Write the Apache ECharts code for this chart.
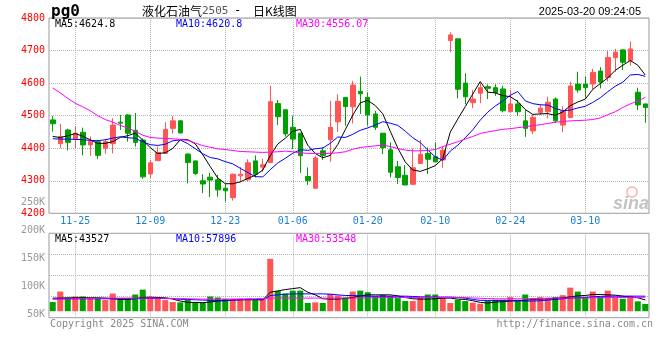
<!DOCTYPE html>
<html><head><meta charset="utf-8">
<script src="https://cdn.jsdelivr.net/npm/echarts@6/dist/echarts.min.js"></script>
<style>html,body{margin:0;padding:0;background:#fff}#c{width:660px;height:360px}</style>
</head><body><div id="c"></div>
<script>
const dates = ['2024-11-20','2024-11-21','2024-11-22','2024-11-25','2024-11-26','2024-11-27','2024-11-28','2024-11-29','2024-12-02','2024-12-03','2024-12-04','2024-12-05','2024-12-06','2024-12-09','2024-12-10','2024-12-11','2024-12-12','2024-12-13','2024-12-16','2024-12-17','2024-12-18','2024-12-19','2024-12-20','2024-12-23','2024-12-24','2024-12-25','2024-12-26','2024-12-27','2024-12-30','2024-12-31','2025-01-02','2025-01-03','2025-01-06','2025-01-07','2025-01-08','2025-01-09','2025-01-10','2025-01-13','2025-01-14','2025-01-15','2025-01-16','2025-01-17','2025-01-20','2025-01-21','2025-01-22','2025-01-23','2025-01-24','2025-01-27','2025-02-05','2025-02-06','2025-02-07','2025-02-10','2025-02-11','2025-02-12','2025-02-13','2025-02-14','2025-02-17','2025-02-18','2025-02-19','2025-02-20','2025-02-21','2025-02-24','2025-02-25','2025-02-26','2025-02-27','2025-02-28','2025-03-03','2025-03-04','2025-03-05','2025-03-06','2025-03-07','2025-03-10','2025-03-11','2025-03-12','2025-03-13','2025-03-14','2025-03-17','2025-03-18','2025-03-19','2025-03-20'];
const tickDates = ['2024-11-25','2024-12-09','2024-12-23','2025-01-06','2025-01-20','2025-02-10','2025-02-24','2025-03-10'];

const openP  = [4487,4414,4456,4428,4449,4410,4420,4400,4414,4480,4502,4455,4425,4321,4362,4384,4461,4484,4382,4361,4300,4311,4303,4277,4248,4315,4303,4361,4342,4356,4537,4518,4464,4446,4313,4277,4392,4426,4481,4556,4527,4575,4556,4505,4446,4395,4343,4317,4289,4353,4384,4374,4364,4731,4736,4600,4540,4569,4589,4586,4582,4512,4536,4484,4453,4510,4512,4551,4471,4494,4597,4597,4597,4637,4617,4678,4702,4669,4572,4536];
const closeP = [4475,4435,4418,4446,4410,4421,4378,4420,4471,4477,4446,4418,4312,4355,4387,4458,4484,4447,4356,4322,4290,4302,4272,4269,4320,4320,4355,4320,4349,4543,4497,4444,4428,4377,4300,4370,4378,4464,4544,4528,4594,4567,4502,4464,4402,4326,4310,4287,4340,4381,4366,4358,4394,4748,4581,4558,4551,4586,4584,4571,4515,4536,4512,4461,4495,4523,4541,4484,4514,4591,4579,4586,4633,4603,4679,4695,4664,4705,4533,4525];
const lowP   = [4451,4400,4393,4400,4378,4377,4367,4383,4384,4456,4420,4405,4306,4308,4360,4382,4445,4445,4292,4318,4262,4250,4251,4236,4239,4296,4298,4310,4327,4355,4471,4436,4397,4324,4287,4276,4364,4358,4450,4469,4476,4505,4469,4456,4382,4310,4290,4286,4288,4352,4321,4357,4340,4695,4553,4535,4523,4538,4551,4561,4510,4511,4500,4435,4443,4502,4492,4477,4449,4493,4571,4555,4581,4584,4605,4635,4640,4654,4517,4478];
const highP  = [4499,4475,4460,4468,4463,4436,4426,4428,4492,4502,4505,4508,4430,4364,4405,4480,4499,4486,4384,4362,4320,4325,4318,4290,4322,4342,4366,4378,4368,4592,4548,4520,4500,4447,4341,4377,4402,4546,4566,4557,4607,4620,4571,4515,4447,4418,4361,4348,4399,4425,4402,4418,4405,4756,4737,4630,4579,4600,4596,4596,4592,4579,4548,4517,4502,4535,4558,4556,4528,4603,4635,4620,4644,4649,4699,4705,4705,4728,4586,4537];

const ma5  = [4436,4433,4438,4445,4436.8,4426.0,4414.6,4415.0,4420.0,4433.4,4438.4,4446.4,4424.8,4401.6,4383.6,4386.0,4399.2,4426.2,4426.4,4413.4,4379.8,4343.4,4308.4,4291.0,4290.6,4296.6,4307.2,4316.8,4332.8,4377.4,4412.8,4430.6,4452.2,4457.8,4409.2,4383.8,4370.6,4377.8,4411.2,4456.8,4501.6,4539.4,4547.0,4531.0,4505.8,4452.2,4400.8,4357.8,4333.0,4328.8,4336.8,4346.4,4367.8,4449.4,4489.4,4527.8,4566.4,4604.8,4572.0,4570.0,4561.4,4558.4,4543.6,4519.0,4503.8,4505.4,4506.4,4500.8,4511.4,4530.6,4541.8,4550.8,4580.6,4598.4,4616.0,4639.2,4654.8,4669.2,4655.2,4624.8];
const ma10 = [4429,4428,4428,4427,4426,4424,4423,4426,4431,4435.1,4432.2,4430.5,4419.9,4410.8,4408.5,4412.2,4422.8,4425.5,4414.0,4398.5,4382.9,4371.3,4367.3,4358.7,4352.0,4338.2,4325.3,4312.6,4311.9,4334.0,4354.7,4368.9,4384.5,4395.3,4393.3,4398.3,4400.6,4415.0,4434.5,4433.0,4442.7,4455.0,4462.4,4471.1,4481.3,4476.9,4470.1,4452.4,4432.0,4417.3,4394.5,4373.6,4362.8,4391.2,4409.1,4432.3,4456.4,4486.3,4510.7,4529.7,4544.6,4562.4,4574.2,4545.5,4536.9,4533.4,4532.4,4522.2,4515.2,4517.2,4523.6,4528.6,4540.7,4554.9,4573.3,4590.5,4602.8,4624.9,4626.8,4620.8];
const ma30 = [4585,4570,4553,4538,4527,4515,4500,4488,4480,4470,4462,4452,4440,4433,4431,4430,4429,4427,4424,4416,4408,4403,4398,4396,4393,4390,4389,4388,4387,4388,4389,4391,4389,4386,4384,4384,4384,4384,4386,4389,4397,4402,4405,4407,4410,4405,4399,4394,4392,4392,4393,4396,4405,4412,4420,4428,4436,4445,4450,4454,4458,4460,4463,4466,4469,4472,4476,4480,4482,4484,4485,4486,4488,4493,4503,4512,4525,4536,4545,4556.07];

const volume = [35280,75600,51660,56700,56700,51660,51660,42840,68040,47880,47880,64260,83160,54180,54180,42840,35280,34020,44100,34020,34020,56700,52920,47880,47880,49140,49140,42840,47880,201600,78120,68040,79380,79380,31500,34020,31500,66780,60480,52920,75600,79380,73080,57960,63000,57960,50400,39060,39060,51660,64260,64260,54180,31500,44100,39060,32760,28980,40320,44100,44100,54180,44100,64260,50400,54180,51660,54180,61740,90720,75600,55440,75600,55440,79380,51660,47880,59220,37800,27720];
const volMa5  = [50400,50400,51700,51700,51700,51700,51700,50400,47900,45400,45400,47900,52900,54200,52900,51700,46600,39100,34000,34000,32800,35300,39100,40300,42800,44100,44100,44100,44100,73100,78100,83200,86900,90700,73100,63000,47900,46600,46600,49100,52900,59200,63000,63000,63000,63000,59200,52900,47900,46600,46600,47900,50400,50400,46600,45400,40300,34000,31500,35300,36500,39100,40300,41600,45400,46600,47900,49100,51700,55400,59200,60500,64300,64300,63000,61700,58000,54200,51700,43527];
const volMa10 = [47900,47900,47900,47900,47900,47900,47900,47900,47900,49100,49100,49100,49100,49100,49100,49100,49100,45400,45400,44100,42800,41600,41600,41600,42800,44100,45400,45400,44100,60500,63000,65500,66800,66800,66800,66800,66800,65500,63000,60500,60500,59200,58000,58000,58000,58000,58000,58000,56700,55400,54200,54200,54200,54200,52900,50400,45400,41600,41600,41600,41600,41600,40300,39100,39100,40300,42800,45400,47900,50400,51700,53000,55400,57000,58000,58000,58000,58000,58000,57896];
const volMa30 = [46600,46600,47200,47900,48500,49100,49700,50400,50400,50400,50400,50400,50400,50400,50400,49700,49100,48500,47900,47200,46600,46600,46600,46600,46600,46600,47200,47900,49100,50400,50400,50400,50400,50400,50400,50400,50400,50400,50400,50400,50400,51000,51700,52300,52900,52900,52900,52900,52900,52900,52900,52900,52900,52900,52900,52300,51000,49700,48500,47900,47900,47900,47900,47900,47900,48500,49700,50400,50400,50400,50400,51000,51700,52300,52900,52900,52900,53200,53400,53548];
const volTickValues = [50000, 100000, 150000, 200000, 250000];

const UP = '#ff5555', DOWN = '#00a000';
const MONO = 'DejaVu Sans Mono';
const GRIDC = '#b4b4b4';
const isTick = (i) => tickDates.indexOf(dates[i]) >= 0;

const chart = echarts.init(document.getElementById('c'), null, {renderer: 'canvas'});
const splitX = {show: true, alignWithLabel: true, interval: (i) => isTick(i), lineStyle: {color: GRIDC, type: 'dotted', width: 1}};
const splitY = {show: true, lineStyle: {color: GRIDC, type: 'dotted', width: 1}};

function txt(x, y, text, fill, font, align) {
  return {type: 'text', x: x, y: y, silent: true, z: 100,
    style: {text: text, fill: fill, font: font, align: align || 'left', verticalAlign: 'middle'}};
}

chart.setOption({
  animation: false,
  backgroundColor: '#fff',
  grid: [
    {left: 49, right: 11, top: 18, height: 195.3, show: true, borderColor: '#999', borderWidth: 1},
    {left: 49, right: 11, top: 233.3, height: 84.4, show: true, borderColor: '#999', borderWidth: 1},
    {left: 49, right: 11, top: 174, height: 168.6, show: false}
  ],
  xAxis: [
    {type: 'category', gridIndex: 0, data: dates, boundaryGap: true,
     axisLine: {show: false}, axisTick: {show: false},
     axisLabel: {interval: (i) => isTick(i), formatter: (v) => v.slice(5), color: '#1a7fd4', fontFamily: MONO, fontSize: 10, margin: 3},
     splitLine: splitX},
    {type: 'category', gridIndex: 1, data: dates, boundaryGap: true,
     axisLine: {show: false}, axisTick: {show: false}, axisLabel: {show: false},
     splitLine: splitX},
    {type: 'category', gridIndex: 2, data: dates, show: false}
  ],
  yAxis: [
    {type: 'value', gridIndex: 0, min: 4200, max: 4800, interval: 100, position: 'left',
     axisLine: {show: false}, axisTick: {show: false},
     axisLabel: {color: '#ff0000', fontFamily: MONO, fontSize: 10, margin: 4, formatter: (v) => String(v)},
     splitLine: splitY},
    {type: 'value', gridIndex: 1, min: -25000, max: 300000, interval: 81250, position: 'left',
     axisLine: {show: false}, axisTick: {show: false}, axisLabel: {show: false},
     splitLine: splitY},
    {type: 'value', gridIndex: 2, min: 0, max: 300000, interval: 50000, position: 'left',
     axisLine: {show: false}, axisTick: {show: false}, splitLine: {show: false},
     axisLabel: {color: '#999', fontFamily: MONO, fontSize: 10, margin: 4,
       formatter: (v) => volTickValues.indexOf(v) >= 0 ? (v / 1000) + 'K' : ''}}
  ],
  series: [
    {type: 'candlestick', xAxisIndex: 0, yAxisIndex: 0, barWidth: 5,
     data: dates.map((d, i) => [openP[i], closeP[i], lowP[i], highP[i]]),
     itemStyle: {color: UP, color0: DOWN, borderColor: UP, borderColor0: DOWN, borderWidth: 1}},
    {type: 'line', xAxisIndex: 0, yAxisIndex: 0, data: ma5, showSymbol: false, lineStyle: {color: '#000', width: 1}, itemStyle: {color: '#000'}},
    {type: 'line', xAxisIndex: 0, yAxisIndex: 0, data: ma10, showSymbol: false, lineStyle: {color: '#0000ff', width: 1}, itemStyle: {color: '#0000ff'}},
    {type: 'line', xAxisIndex: 0, yAxisIndex: 0, data: ma30, showSymbol: false, lineStyle: {color: '#ff00ff', width: 1}, itemStyle: {color: '#ff00ff'}},
    {type: 'bar', xAxisIndex: 1, yAxisIndex: 1, barWidth: 6,
     data: volume.map((v, i) => ({value: v, itemStyle: {color: closeP[i] >= openP[i] ? UP : DOWN}}))},
    {type: 'line', xAxisIndex: 1, yAxisIndex: 1, data: volMa5, showSymbol: false, lineStyle: {color: '#000', width: 1}},
    {type: 'line', xAxisIndex: 1, yAxisIndex: 1, data: volMa10, showSymbol: false, lineStyle: {color: '#0000ff', width: 1}},
    {type: 'line', xAxisIndex: 1, yAxisIndex: 1, data: volMa30, showSymbol: false, lineStyle: {color: '#ff00ff', width: 1}}
  ],
  graphic: [
    txt(51, 12, 'pg0', '#000', 'bold 16px ' + MONO),
    txt(142, 11, '液化石油气', '#000', '12px "Noto Sans CJK SC"'),
    txt(202, 11, '2505', '#555', '11px ' + MONO),
    txt(234, 11, '-', '#000', '12px ' + MONO),
    txt(253, 11, '日K线图', '#000', '12px "Noto Sans CJK SC"'),
    txt(641, 12, '2025-03-20 09:24:05', '#000', '11px "Liberation Sans"', 'right'),
    txt(55, 24, 'MA5:4624.8', '#000', '10px ' + MONO),
    txt(176, 24, 'MA10:4620.8', '#0000ff', '10px ' + MONO),
    txt(296, 24, 'MA30:4556.07', '#ff00ff', '10px ' + MONO),
    txt(55, 239, 'MA5:43527', '#000', '10px ' + MONO),
    txt(176, 239, 'MA10:57896', '#0000ff', '10px ' + MONO),
    txt(296, 239, 'MA30:53548', '#ff00ff', '10px ' + MONO),
    txt(50, 324, 'Copyright 2025 SINA.COM', '#888', '10px ' + MONO),
    txt(653, 324, 'http://finance.sina.com.cn', '#888', '10px ' + MONO, 'right'),
    {type: 'circle', silent: true, z: 99, shape: {cx: 632, cy: 192, r: 5},
     style: {fill: 'none', stroke: 'rgba(240,140,140,0.55)', lineWidth: 2}},
    txt(649, 204, 'sina', 'rgba(185,185,185,0.85)', 'italic bold 18px "Liberation Sans"', 'right')
  ]
});
</script></body></html>
